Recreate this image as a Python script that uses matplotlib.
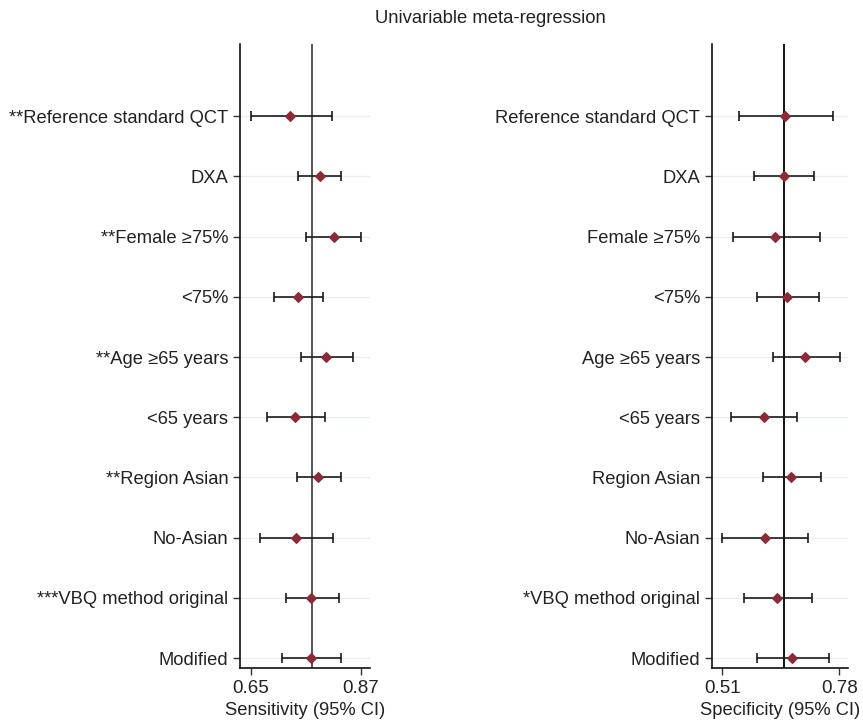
import numpy as np
import matplotlib.pyplot as plt

plt.rcParams['font.family'] = ['Liberation Sans', 'DejaVu Sans']

left_labels = ["**Reference standard QCT", "DXA", "**Female \u226575%", "<75%",
               "**Age \u226565 years", "<65 years", "**Region Asian", "No-Asian",
               "***VBQ method original", "Modified"]
right_labels = ["Reference standard QCT", "DXA", "Female \u226575%", "<75%",
                "Age \u226565 years", "<65 years", "Region Asian", "No-Asian",
                "*VBQ method original", "Modified"]

# sensitivity (point, lower, upper)
sens = [0.728, 0.789, 0.817, 0.745, 0.801, 0.738, 0.785, 0.741, 0.771, 0.771]
sens_lo = [0.650, 0.744, 0.760, 0.697, 0.751, 0.683, 0.742, 0.669, 0.720, 0.713]
sens_hi = [0.812, 0.831, 0.871, 0.795, 0.855, 0.798, 0.831, 0.814, 0.826, 0.831]
sens_ref = 0.772

# specificity (point, lower, upper)
spec = [0.655, 0.652, 0.632, 0.660, 0.701, 0.606, 0.668, 0.609, 0.636, 0.671]
spec_lo = [0.548, 0.582, 0.534, 0.591, 0.626, 0.531, 0.604, 0.509, 0.561, 0.589]
spec_hi = [0.765, 0.721, 0.735, 0.732, 0.781, 0.683, 0.737, 0.707, 0.716, 0.756]
spec_ref = 0.653

fig = plt.figure(figsize=(8.63, 7.25), dpi=100)
ax1 = fig.add_axes([0.2781, 0.0786, 0.1506, 0.8607])
ax2 = fig.add_axes([0.8250, 0.0786, 0.1576, 0.8607])

ypos = np.arange(10, 0, -1)


def forest(ax, labels, pt, lo, hi, ref, ticks, xlim, xlabel, refcol):
    for y in ypos:
        ax.axhline(y, color='#e6eff1', lw=1.0, zorder=0)
    ax.axvline(ref, color=refcol, lw=1.4, zorder=1)
    pt = np.array(pt)
    err = [pt - np.array(lo), np.array(hi) - pt]
    ax.errorbar(pt, ypos, xerr=err, fmt='none', ecolor='#1a1a1a', elinewidth=1.2,
                capsize=3.5, capthick=1.2, zorder=2)
    ax.scatter(pt, ypos, marker='D', s=24, color='#8c2a36', zorder=3)
    ax.set_ylim(0.834, 11.2)
    ax.set_xlim(*xlim)
    ax.set_yticks(ypos)
    ax.set_yticklabels(labels, fontsize=13.2, color='#222222')
    ax.set_xticks(ticks)
    ax.set_xticklabels(['%.2f' % t for t in ticks], fontsize=13.5, color='#222222')
    ax.set_xlabel(xlabel, fontsize=13.2, color='#222222', labelpad=4)
    ax.tick_params(axis='both', length=5, width=1, color='#333333')
    for s in ['top', 'right']:
        ax.spines[s].set_visible(False)
    for s in ['left', 'bottom']:
        ax.spines[s].set_linewidth(1.2)
        ax.spines[s].set_color('#111111')


forest(ax1, left_labels, sens, sens_lo, sens_hi, sens_ref, [0.65, 0.87],
       (0.628, 0.888), 'Sensitivity (95% CI)', '#555555')
forest(ax2, right_labels, spec, spec_lo, spec_hi, spec_ref, [0.51, 0.78],
       (0.486, 0.800), 'Specificity (95% CI)', '#111111')

fig.text(0.568, 0.975, 'Univariable meta-regression', ha='center', va='center',
         fontsize=13.3, color='#222222')

plt.savefig('out.png', dpi=100)
